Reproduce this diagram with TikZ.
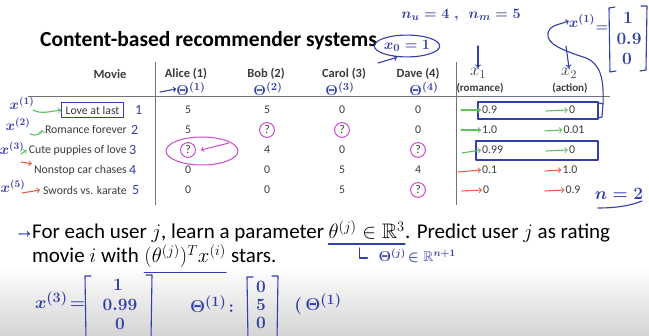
\documentclass[tikz,border=0pt]{standalone}
\usepackage{fontspec}
\usepackage{amssymb}
\setmainfont{Carlito}
\usetikzlibrary{positioning,shapes.geometric}

\definecolor{pen}{RGB}{50,62,172}
\definecolor{greenink}{RGB}{96,192,96}
\definecolor{redink}{RGB}{230,98,76}
\definecolor{pinkink}{RGB}{204,74,204}
\definecolor{cellgray}{RGB}{58,58,58}

\tikzset{
  title/.style={font=\bfseries\fontsize{21.5}{25}\selectfont, inner sep=0pt, anchor=base west},
  colhead/.style={font=\bfseries\fontsize{12.5}{14}\selectfont, text=cellgray, inner sep=1pt},
  cell/.style={font=\fontsize{11.8}{13}\selectfont, text=cellgray, inner sep=1pt},
  feat/.style={cell, anchor=west},
  body/.style={font=\fontsize{21}{25}\selectfont, inner sep=0pt, anchor=base west},
  ink/.style={text=pen, inner sep=0pt, font=\fontsize{14}{16}\selectfont\boldmath},
  bigink/.style={ink, font=\fontsize{16}{18}\selectfont\boldmath},
  inkline/.style={draw=pen, line width=1.1pt, line cap=round, line join=round},
  gink/.style={->, draw=greenink, line width=1.1pt, line cap=round},
  rink/.style={->, draw=redink, line width=1.1pt, line cap=round},
  ring/.style={draw=pinkink, line width=1pt, circle, inner sep=1.8pt},
  rule/.style={draw=black!55, line width=1pt},
}

\begin{document}
\begin{tikzpicture}[x=1pt,y=-1pt]
\useasboundingbox (0,0) rectangle (649,336);
\shade[top color=white, bottom color=black!17] (0,266) rectangle (649,336);

% slide
\node[title] (title) at (40,47) {Content-based recommender systems};

\node[colhead] (hmovie) at (110,74) {Movie};
\node[colhead] (halice) at (186,74) {Alice (1)};
\node[colhead] (hbob) at (266,74) {Bob (2)};
\node[colhead] (hcarol) at (344,74) {Carol (3)};
\node[colhead] (hdave) at (418,74) {Dave (4)};
\node[text=cellgray, inner sep=0pt, font=\fontsize{18}{20}\selectfont] (hxone) at (478,73) {$x_1$};
\node[colhead, font=\bfseries\fontsize{11}{13}\selectfont] (hrom) at (480,88) {(romance)};
\node[text=cellgray, inner sep=0pt, font=\fontsize{18}{20}\selectfont] (hxtwo) at (569,73) {$x_2$};
\node[colhead, font=\bfseries\fontsize{11}{13}\selectfont] (hact) at (570,88) {(action)};

\draw[rule] (155,62) -- (155,205);
\draw[rule] (456,62) -- (456,205);
\draw[rule] (28,97) -- (610,97);

\node[cell, anchor=east, draw=pen, line width=1.1pt, inner xsep=4pt, inner ysep=3pt] (m1) at (124,110) {Love at last};
\node[cell, anchor=east] (m2) at (128,130) {Romance forever};
\node[cell, anchor=east] (m3) at (128,150) {Cute puppies of love};
\node[cell, anchor=east] (m4) at (128,170) {Nonstop car chases};
\node[cell, anchor=east] (m5) at (128,190) {Swords vs. karate};

\node[cell] (a1) at (188,110) {5};
\node[cell] (b1) at (267,110) {5};
\node[cell] (c1) at (342,110) {0};
\node[cell] (d1) at (418,110) {0};
\node[cell] (a2) at (188,130) {5};
\node[cell, ring] (b2) at (267,130) {?};
\node[cell, ring] (c2) at (342,130) {?};
\node[cell] (d2) at (418,130) {0};
\node[cell, ring] (a3) at (188,150) {?};
\node[cell] (b3) at (267,150) {4};
\node[cell] (c3) at (342,150) {0};
\node[cell, ring] (d3) at (418,150) {?};
\node[cell] (a4) at (188,170) {0};
\node[cell] (b4) at (267,170) {0};
\node[cell] (c4) at (342,170) {5};
\node[cell] (d4) at (418,170) {4};
\node[cell] (a5) at (188,190) {0};
\node[cell] (b5) at (267,190) {0};
\node[cell] (c5) at (342,190) {5};
\node[cell, ring] (d5) at (418,190) {?};

\node[feat] (f11) at (481,110) {0.9};
\node[feat] (f21) at (481,130) {1.0};
\node[feat] (f31) at (481,150) {0.99};
\node[feat] (f41) at (481,170) {0.1};
\node[feat] (f51) at (482,190) {0};
\node[cell] (f12) at (572,110) {0};
\node[cell] (f22) at (574,130) {0.01};
\node[cell] (f32) at (572,150) {0};
\node[cell] (f42) at (570,170) {1.0};
\node[cell] (f52) at (573,190) {0.9};

\node[body] (l1a) at (32,239) {For each user $j$, learn a parameter};
\node[body] (l1b) at ([xshift=4pt]l1a.base east) {$\theta^{(j)}\in\mathbb{R}^3$};
\node[body] (l1c) at (l1b.base east) {. Predict user $j$ as rating};
\node[body] (l2a) at (32,263) {movie $i$ with};
\node[body] (l2b) at ([xshift=5pt]l2a.base east) {$(\theta^{(j)})^Tx^{(i)}$};
\node[body] (l2c) at ([xshift=5pt]l2b.base east) {stars.};

% pen notes
\node[ink, font=\fontsize{15}{17}\selectfont\boldmath] (counts) at (461,15) {$n_u = 4\;,\;\, n_m = 5$};
\node[ink, draw=pen, line width=1.1pt, ellipse, inner xsep=0pt, inner ysep=2pt, font=\fontsize{15}{17}\selectfont\boldmath] (xzero) at (407,46) {$x_0 = 1$};
\coordinate (xzerotail) at (378,63);
\draw[inkline, ->] (xzerotail) -- ([xshift=-10pt]xzero.south);
\coordinate (downone) at (478,46);
\draw[inkline, ->] (downone) -- (hxone.north);
\coordinate (downtwo) at (566,46);
\draw[inkline, ->] (downtwo) -- (hxtwo.north);

\node[ink, font=\fontsize{15}{17}\selectfont\boldmath] (xone) at (582,21) {$x^{(1)}$};
\node[ink] (xoneeq) at (602,29) {$=$};
\node[bigink] (xv1) at (628,18) {$1$};
\node[bigink] (xv2) at (629,39) {$0.9$};
\node[bigink] (xv3) at (627,59) {$0$};
\draw[inkline] (615,7) -- (609,8) -- (610,72) -- (616,71);
\draw[inkline] (641,6) -- (647,6) -- (646,70) -- (640,71);

\draw[inkline] (478,102) rectangle (598,119);
\draw[inkline] (476,141) rectangle (598,160);
\draw[inkline] (599,103) -- (603,104) -- (602,117) -- (598,118);
\draw[inkline, ->] (603,104) .. controls (604,80) and (601,64) .. (586,58)
  .. controls (562,50) and (546,44) .. (548,33)
  .. controls (550,25) and (558,25) .. (xone.west);

\node[ink, font=\fontsize{15}{17}\selectfont\boldmath] (tone) at (191,89) {$\Theta^{(1)}$};
\node[ink, font=\fontsize{15}{17}\selectfont\boldmath] (ttwo) at (268,89) {$\Theta^{(2)}$};
\node[ink, font=\fontsize{15}{17}\selectfont\boldmath] (tthree) at (340,89) {$\Theta^{(3)}$};
\node[ink, font=\fontsize{15}{17}\selectfont\boldmath] (tfour) at (424,89) {$\Theta^{(4)}$};
\coordinate (tonetail) at (160,92);
\draw[inkline, ->] (tonetail) -- (tone.west);

\node[ink] (xl1) at (22,103) {$x^{(1)}$};
\node[ink] (xl2) at (18,124) {$x^{(2)}$};
\node[ink] (xl3) at (12,148) {$x^{(3)}$};
\node[ink] (xl5) at (13,186) {$x^{(5)}$};
\draw[gink] (33,110) .. controls (40,114) and (48,112) .. (m1.west);
\draw[gink] (30,134) .. controls (36,137) and (42,133) .. ([xshift=-2pt]m2.west);
\draw[gink] (21,154) -- ([xshift=-1pt]m3.west);
\draw[rink] (21,162) -- ([xshift=-1pt]m4.north west);
\draw[rink] (22,193) -- ([xshift=-2pt]m5.west);

\node[ink, right=11pt of m1] (n1) {1};
\node[ink, right=3pt of m2] (n2) {2};
\node[ink, right=1pt of m3] (n3) {3};
\node[ink, right=1pt of m4] (n4) {4};
\node[ink, right=4pt of m5] (n5) {5};

\draw[draw=pinkink, line width=1pt] (202,151) ellipse (36 and 14);
\coordinate (peek) at (229,143);
\draw[draw=pinkink, line width=1pt, ->] (peek) -- ([xshift=5pt]a3.east);

\draw[gink] (461,110) -- (f11.west);
\draw[gink] (461,130) -- (f21.west);
\draw[gink] (462,153) -- (f31.west);
\draw[rink] (458,172) -- (f41.west);
\draw[rink] (462,191) -- (f51.west);
\draw[gink] (546,111) -- (f12.west);
\draw[gink] (545,131) -- (f22.west);
\draw[gink] (546,151) -- (f32.west);
\draw[rink] (545,171) -- (f42.west);
\draw[rink] (545,191) -- (f52.west);

\node[bigink] (nfeat) at (619,194) {$n = 2$};
\draw[inkline] (598,208) .. controls (615,208) and (630,206) .. (642,201);

\coordinate (bullet) at (19,234);
\draw[inkline, ->] (bullet) -- ([xshift=-2pt]l1a.west);
\draw[inkline] ([yshift=-4pt]l1b.south west) -- ([yshift=-4pt]l1b.south east);
\draw[inkline] ([shift={(31pt,-8pt)}]l1b.south west) -- ++(0,10) -- ++(8,0);
\node[ink, anchor=west] (ndim) at ([shift={(50pt,-16pt)}]l1b.south west) {$\Theta^{(j)}\!\in\mathbb{R}^{n+1}$};
\draw[inkline] ([yshift=-4pt]l2b.south west) -- ([yshift=-4pt]l2b.south east);

\node[bigink, font=\fontsize{19}{21}\selectfont\boldmath] (xthree) at (60,300) {$x^{(3)}\!=$};
\node[bigink] (xt1) at (118,285) {$1$};
\node[bigink] (xt2) at (120,305) {$0.99$};
\node[bigink] (xt3) at (120,324) {$0$};
\node[bigink, font=\fontsize{19}{21}\selectfont\boldmath] (tvec) at (212,304) {$\Theta^{(1)}\!:$};
\node[bigink] (tv1) at (261,287) {$0$};
\node[bigink] (tv2) at (261,305) {$5$};
\node[bigink] (tv3) at (261,323) {$0$};
\draw[inkline] (91,276) -- (85,276) -- (86,340);
\draw[inkline] (146,275) -- (152,275) -- (151,340);
\draw[inkline] (253,277) -- (247,277) -- (248,340);
\draw[inkline] (272,276) -- (278,276) -- (277,340);

\node[bigink, font=\fontsize{19}{21}\selectfont\boldmath] (topen) at (318,304) {$(\,\Theta^{(1)}$};
\end{tikzpicture}
\end{document}
